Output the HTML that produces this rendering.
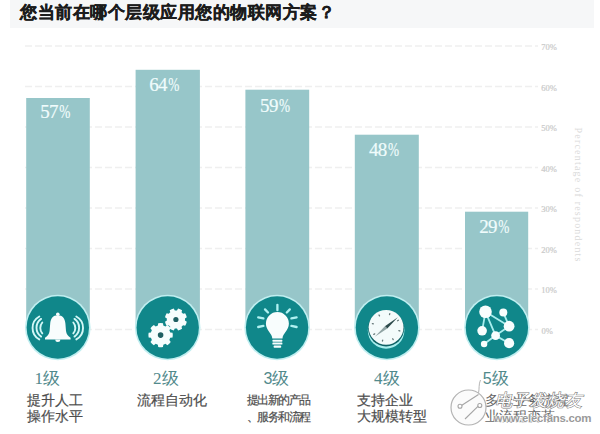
<!DOCTYPE html>
<html><head><meta charset="utf-8">
<style>
html,body{margin:0;padding:0;background:#fff;}
body{width:600px;height:434px;overflow:hidden;position:relative;font-family:"Liberation Sans",sans-serif;}
svg{position:absolute;left:0;top:0;}
.t{position:absolute;white-space:nowrap;}
.lv{position:absolute;white-space:nowrap;font-family:"Liberation Serif",serif;font-size:17px;color:#528a8c;line-height:18px;}
.ds{position:absolute;white-space:nowrap;font-size:14px;color:#4d4d4d;line-height:16px;-webkit-text-stroke:0.2px #4d4d4d;}
.wm{position:absolute;white-space:nowrap;color:#fff;}
i{font-style:normal;display:inline-block;width:1em;text-align:center;font-family:"Liberation Sans",sans-serif;}
.t i{width:calc(1em + 0.5px);}
.n i{width:calc(1em - 1.5px);}
</style></head><body>
<svg width="600" height="434" viewBox="0 0 600 434">
<rect x="10" y="0" width="584" height="28" fill="#f6f7f8"/>
<g stroke="#efefef" stroke-width="1.5" stroke-dasharray="7 3">
<line x1="25" y1="46" x2="538" y2="46"/>
<line x1="25" y1="86.5" x2="538" y2="86.5"/>
<line x1="25" y1="127" x2="538" y2="127"/>
<line x1="25" y1="167.5" x2="538" y2="167.5"/>
<line x1="25" y1="208" x2="538" y2="208"/>
<line x1="25" y1="248.5" x2="538" y2="248.5"/>
<line x1="25" y1="289" x2="538" y2="289"/>
<line x1="25" y1="329.5" x2="538" y2="329.5"/>
</g>
<g fill="#cacaca" stroke="#cacaca" stroke-width="0.2" font-family="Liberation Serif" font-size="8.5">
<text x="541.2" y="50.3">70%</text>
<text x="541.2" y="90.8">60%</text>
<text x="541.2" y="131.3">50%</text>
<text x="541.2" y="171.8">40%</text>
<text x="541.2" y="212.3">30%</text>
<text x="541.2" y="252.8">20%</text>
<text x="541.2" y="293.3">10%</text>
<text x="541.5" y="333.8">0%</text>
</g>
<text transform="translate(574.5,127.5) rotate(90)" fill="#dadada" font-family="Liberation Serif" font-size="10" textLength="134" lengthAdjust="spacing">Percentage of respondents</text>
<g fill="#97c6c9">
<rect x="26.2" y="98.0" width="63.6" height="231.0"/>
<rect x="135.6" y="69.8" width="64.3" height="259.2"/>
<rect x="245.4" y="89.7" width="63.8" height="239.3"/>
<rect x="354.8" y="134.7" width="64.0" height="194.3"/>
<rect x="465.0" y="211.7" width="63.2" height="117.3"/>
</g>
<g fill="#f0fcfc" stroke="#f0fcfc" stroke-width="0.2" font-family="Liberation Serif" font-size="19">
<text x="40.2" y="118.3" letter-spacing="-0.6">57</text>
<text transform="translate(59.2,118.3) scale(0.7,1)">%</text>
<text x="149.2" y="90.6" letter-spacing="-0.6">64</text>
<text transform="translate(168.2,90.6) scale(0.7,1)">%</text>
<text x="260.0" y="111.6" letter-spacing="-0.6">59</text>
<text transform="translate(279.0,111.6) scale(0.7,1)">%</text>
<text x="368.9" y="156.1" letter-spacing="-0.6">48</text>
<text transform="translate(387.9,156.1) scale(0.7,1)">%</text>
<text x="479.2" y="233" letter-spacing="-0.6">29</text>
<text transform="translate(498.2,233) scale(0.7,1)">%</text>
</g>
<circle cx="57.8" cy="327.5" r="32.8" fill="#c0eef0"/>
<circle cx="167.7" cy="327.5" r="32.8" fill="#c0eef0"/>
<circle cx="277.1" cy="327.5" r="32.8" fill="#c0eef0"/>
<circle cx="386.9" cy="327.5" r="32.8" fill="#c0eef0"/>
<circle cx="496.9" cy="327.5" r="32.8" fill="#c0eef0"/>
<g fill="#10878a">
<circle cx="57.8" cy="327.5" r="31.2"/>
<circle cx="167.7" cy="327.5" r="31.2"/>
<circle cx="277.1" cy="327.5" r="31.2"/>
<circle cx="386.9" cy="327.5" r="31.2"/>
<circle cx="496.9" cy="327.5" r="31.2"/>
</g>

<g fill="#f8fdfd">
 <path d="M57.8 315.2 C62.7 315.2 65 318.5 65.4 323.5 L66 331 C66.4 334.5 68.2 336 70.6 337.8 L70.6 339.6 L45 339.6 L45 337.8 C47.4 336 49.2 334.5 49.6 331 L50.2 323.5 C50.6 318.5 52.9 315.2 57.8 315.2 Z"/>
 <circle cx="57.8" cy="314.2" r="1.8"/>
 <path d="M55.3 339.6 A2.5 2.5 0 0 0 60.3 339.6 Z"/>
</g>
<g fill="none" stroke="#d3f7f7" stroke-width="1.9" stroke-linecap="round">
 <path d="M73.3 322.5 A8.4 8.4 0 0 1 73.3 333.4"/>
 <path d="M74.5 318.9 A10.8 10.8 0 0 1 74.5 336.6"/>
 <path d="M76.3 316.5 A13.1 13.1 0 0 1 76.3 339.4"/>
 <path d="M42.3 322.5 A8.4 8.4 0 0 0 42.3 333.4"/>
 <path d="M41.1 318.9 A10.8 10.8 0 0 0 41.1 336.6"/>
 <path d="M39.3 316.5 A13.1 13.1 0 0 0 39.3 339.4"/>
</g>
<g fill="#f6fdfd"><path d="M157.89 325.48 L158.22 323.13 A12.2 12.2 0 0 1 162.98 323.13 L163.31 325.48 A10.0 10.0 0 0 1 165.49 326.38 L167.38 324.96 A12.2 12.2 0 0 1 170.74 328.32 L169.32 330.21 A10.0 10.0 0 0 1 170.22 332.39 L172.57 332.72 A12.2 12.2 0 0 1 172.57 337.48 L170.22 337.81 A10.0 10.0 0 0 1 169.32 339.99 L170.74 341.88 A12.2 12.2 0 0 1 167.38 345.24 L165.49 343.82 A10.0 10.0 0 0 1 163.31 344.72 L162.98 347.07 A12.2 12.2 0 0 1 158.22 347.07 L157.89 344.72 A10.0 10.0 0 0 1 155.71 343.82 L153.82 345.24 A12.2 12.2 0 0 1 150.46 341.88 L151.88 339.99 A10.0 10.0 0 0 1 150.98 337.81 L148.63 337.48 A12.2 12.2 0 0 1 148.63 332.72 L150.98 332.39 A10.0 10.0 0 0 1 151.88 330.21 L150.46 328.32 A12.2 12.2 0 0 1 153.82 324.96 L155.71 326.38 A10.0 10.0 0 0 1 157.89 325.48Z"/><path d="M176.97 310.46 L178.07 308.61 A11.1 11.1 0 0 1 182.07 310.27 L181.53 312.35 A9.1 9.1 0 0 1 183.05 313.87 L185.13 313.33 A11.1 11.1 0 0 1 186.79 317.33 L184.94 318.43 A9.1 9.1 0 0 1 184.94 320.57 L186.79 321.67 A11.1 11.1 0 0 1 185.13 325.67 L183.05 325.13 A9.1 9.1 0 0 1 181.53 326.65 L182.07 328.73 A11.1 11.1 0 0 1 178.07 330.39 L176.97 328.54 A9.1 9.1 0 0 1 174.83 328.54 L173.73 330.39 A11.1 11.1 0 0 1 169.73 328.73 L170.27 326.65 A9.1 9.1 0 0 1 168.75 325.13 L166.67 325.67 A11.1 11.1 0 0 1 165.01 321.67 L166.86 320.57 A9.1 9.1 0 0 1 166.86 318.43 L165.01 317.33 A11.1 11.1 0 0 1 166.67 313.33 L168.75 313.87 A9.1 9.1 0 0 1 170.27 312.35 L169.73 310.27 A11.1 11.1 0 0 1 173.73 308.61 L174.83 310.46 A9.1 9.1 0 0 1 176.97 310.46Z"/></g>
<g fill="#1f5f62"><circle cx="160.6" cy="335.1" r="2.8"/><circle cx="175.9" cy="319.5" r="2.6"/></g>
<g stroke="#b0f1f1" stroke-width="2.3" stroke-linecap="round" fill="none">
 <line x1="277.4" y1="304.8" x2="277.4" y2="310.2"/>
 <line x1="265" y1="309.4" x2="268" y2="312.5"/>
 <line x1="289.8" y1="309.4" x2="286.8" y2="312.5"/>
 <line x1="258.2" y1="317.3" x2="263.4" y2="318.4"/>
 <line x1="296.6" y1="317.3" x2="291.4" y2="318.4"/>
 <line x1="258.2" y1="327" x2="263.4" y2="325.9"/>
 <line x1="296.6" y1="327" x2="291.4" y2="325.9"/>
</g>
<g fill="#f8fdfd">
 <path d="M272.3 338.4 C272.3 334 265.9 330.5 265.9 323.6 A11.5 11.5 0 1 1 288.9 323.6 C288.9 330.5 282.5 334 282.5 338.4 Z"/>
 <rect x="272.4" y="339.8" width="10" height="1.9" rx="0.6"/>
 <rect x="272.4" y="342.6" width="10" height="1.9" rx="0.6"/>
 <rect x="273.6" y="345.4" width="7.6" height="2.3" rx="0.8"/>
</g>
<circle cx="386.1" cy="330.4" r="18.3" fill="#a8eeee"/>
<circle cx="386.1" cy="328.4" r="18" fill="#0f6165"/>
<circle cx="386.1" cy="327.3" r="17.4" fill="#f3fbfb"/>
<g stroke="#66797a" stroke-width="1.3" stroke-linecap="round">
 <line x1="379.00" y1="315.00" x2="379.50" y2="315.87"/>
 <line x1="389.78" y1="313.58" x2="389.52" y2="314.55"/>
 <line x1="398.40" y1="320.20" x2="397.53" y2="320.70"/>
 <line x1="399.82" y1="330.98" x2="398.85" y2="330.72"/>
 <line x1="393.20" y1="339.60" x2="392.70" y2="338.73"/>
 <line x1="382.42" y1="341.02" x2="382.68" y2="340.05"/>
 <line x1="373.80" y1="334.40" x2="374.67" y2="333.90"/>
 <line x1="372.38" y1="323.62" x2="373.35" y2="323.88"/>
</g>
<path d="M397.8 317.2 L387.3 328.6 L384.9 326.2 Z" fill="#2c4a4b"/>
<path d="M374.8 336.8 L384.9 326.2 L387.3 328.6 Z" fill="#90a4a4"/>
<g stroke="#a9eeee" stroke-width="1.8" stroke-linecap="round">
 <line x1="485.5" y1="311.8" x2="482.1" y2="330.8"/>
 <line x1="485.5" y1="311.8" x2="495.6" y2="335.6"/>
 <line x1="485.5" y1="311.8" x2="509.1" y2="326.2"/>
 <line x1="503.3" y1="312.6" x2="509.1" y2="326.2"/>
 <line x1="509.1" y1="326.2" x2="495.6" y2="335.6"/>
 <line x1="495.6" y1="335.6" x2="509.1" y2="343.2"/>
 <line x1="495.6" y1="335.6" x2="484.1" y2="344"/>
</g>
<g fill="#f8fdfd">
 <circle cx="485.5" cy="311.8" r="6.3"/><circle cx="503.3" cy="312.6" r="4"/>
 <circle cx="509.1" cy="326.2" r="5.4"/><circle cx="482.1" cy="330.8" r="4.8"/>
 <circle cx="495.6" cy="335.6" r="4.4"/><circle cx="509.1" cy="343.2" r="5.1"/>
 <circle cx="484.1" cy="344" r="3.2"/>
</g>

</svg>
<div class="t" style="left:20px;top:1.3px;font-size:17px;font-weight:bold;color:#1c1c1c;letter-spacing:0.5px;-webkit-text-stroke:0.35px #1c1c1c;"><i>您</i><i>当</i><i>前</i><i>在</i><i>哪</i><i>个</i><i>层</i><i>级</i><i>应</i><i>用</i><i>您</i><i>的</i><i>物</i><i>联</i><i>网</i><i>方</i><i>案</i><i>？</i></div>
<div class="lv" style="left:34.5px;top:370px;">1<i>级</i></div>
<div class="lv" style="left:153px;top:370px;">2<i>级</i></div>
<div class="lv" style="left:263.5px;top:370px;"><span style="font-family:'Liberation Sans';font-size:16px">3</span><i>级</i></div>
<div class="lv" style="left:374px;top:370px;">4<i>级</i></div>
<div class="lv" style="left:482.7px;top:370px;"><span style="font-family:'Liberation Sans';font-size:16px">5</span><i>级</i></div>
<div class="ds" style="left:27px;top:391.5px;"><i>提</i><i>升</i><i>人</i><i>工</i><br><i>操</i><i>作</i><i>水</i><i>平</i></div>
<div class="ds" style="left:136.5px;top:391.5px;"><i>流</i><i>程</i><i>自</i><i>动</i><i>化</i></div>
<div class="ds n" style="left:246.5px;top:391.5px;font-size:12px;letter-spacing:-1.5px;line-height:17px;"><i>提</i><i>出</i><i>新</i><i>的</i><i>产</i><i>品</i><br><i>、</i><i>服</i><i>务</i><i>和</i><i>流</i><i>程</i></div>
<div class="ds" style="left:356.5px;top:391.5px;"><i>支</i><i>持</i><i>企</i><i>业</i><br><i>大</i><i>规</i><i>模</i><i>转</i><i>型</i></div>
<div class="ds" style="left:485px;top:391.5px;color:#666;-webkit-text-stroke:0;"><i>多</i><i>个</i><i>业</i><i>务</i><i>流</i><i>程</i><br><i>业</i><i>流</i><i>程</i><i>变</i><i>革</i></div>
<svg width="600" height="434" viewBox="0 0 600 434" style="position:absolute;left:0;top:0">
 <path d="M480.5 380 C478.5 384 479.5 389 478.5 393" fill="none" stroke="#b5b5b5" stroke-width="1"/>
 <circle cx="468.5" cy="407.5" r="17.5" fill="#fbfbfb" stroke="#b3b3b3" stroke-width="1.2"/>
 <g fill="none" stroke="#a5a5a5" stroke-width="1.1">
  <path d="M461.5 405.5 L478.5 394.5"/>
  <path d="M478.2 406.2 L465 419"/>
  <circle cx="460" cy="406.3" r="2" fill="#fff"/>
  <circle cx="479.8" cy="405.5" r="2" fill="#fff"/>
 </g>
 <text x="494.5 512 529.5 547 564.5" y="405.5" font-family="Liberation Sans" font-size="17" font-style="italic" fill="#ffffff" stroke="#7a7a7a" stroke-width="1.1" paint-order="stroke" >电子发烧友</text>
 <text x="493.5" y="421.5" font-family="Liberation Sans" font-size="11.5" font-weight="bold" fill="#9a9a9a" stroke="#ffffff" stroke-width="1.2" paint-order="stroke" textLength="98" lengthAdjust="spacing">www.elecfans.com</text>
</svg>
</body></html>
